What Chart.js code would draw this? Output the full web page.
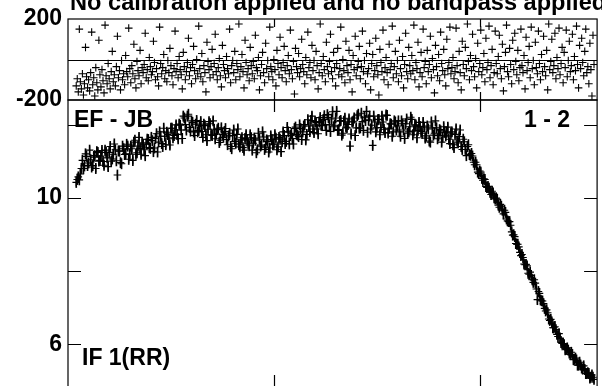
<!DOCTYPE html>
<html>
<head>
<meta charset="utf-8">
<title>EF - JB 1 - 2 IF 1(RR)</title>
<script src="https://cdn.jsdelivr.net/npm/chart.js@4.4.0/dist/chart.umd.min.js"></script>
<style>
  html, body { margin: 0; padding: 0; background: #fff; overflow: hidden; }
  body { width: 602px; height: 386px; position: relative; }
  .panel { position: absolute; left: 0; width: 602px; }
  #phaseBox { top: 0; height: 130px; }
  #ampBox { top: 80px; height: 312px; }
</style>
</head>
<body>
<div class="panel" id="ampBox"><canvas id="ampChart" width="602" height="312"></canvas></div>
<div class="panel" id="phaseBox"><canvas id="phaseChart" width="602" height="130"></canvas></div>
<script>
// channel axis
const FIRST_CHANNEL = 8;
const X_RANGE = [0, 514];
const X_TICKS = [200, 400];

// phase (degrees), channels 8..511
const PHASE = [
  -130, -95, -160, 150, -110, -145, -70, -175, -120, 60, -85, -140,
  -100, -155, -65, 135, -125, -90, -180, -40, -115, -150, 95, -75,
  -135, -50, -105, -165, 170, -80, -120, -20, -95, -145, -60, 40,
  -110, -75, -130, -35, 115, -90, -55, -150, -5, -100, -70, -125,
  20, -60, -85, 155, -45, -115, -30, -70, 75, -95, -140, -10,
  -55, -80, 45, -120, -40, -65, -25, 130, -90, -50, -105, 10,
  -35, -75, -60, 90, -15, -100, -45, -85, -130, 160, -20, -70,
  -40, 25, -95, -55, -110, -5, -65, 55, -30, -80, -125, -45,
  140, -60, -20, -90, 15, -50, -75, -145, 35, -35, -100, -60,
  -15, 105, -80, -40, -120, -25, 65, -55, -95, 0, -70, 165,
  -45, -85, 30, -110, -30, -65, -160, 85, -10, -50, -90, -35,
  50, -75, -20, 125, -60, -100, -40, 5, -80, -135, 70, -25,
  -55, -90, 15, -45, -70, 150, -115, -30, -5, -65, 40, -100,
  -20, -50, 175, -85, -35, 25, -60, -140, 95, -15, -75, -45,
  -105, 60, -30, -70, -10, -95, 120, -40, -55, 10, -150, -80,
  -25, 35, -65, -115, 80, -45, -5, -85, 160, -35, -60, -100,
  0, -50, -130, 45, -20, -75, 110, -40, -90, -15, 65, -55,
  -110, -30, 20, -70, 145, -50, -95, -10, -170, 55, -35, -65,
  30, -85, -45, 100, -25, -60, -120, 10, -75, 135, -40, -15,
  -90, 70, -55, -5, -100, 40, -30, -145, -65, 175, -20, -80,
  15, -50, -110, 85, -35, -70, -10, 125, -60, -95, 35, -40,
  -130, -20, 55, -75, -45, 160, -85, 0, -55, -115, 90, -30,
  -65, 45, -100, -25, -160, 20, -50, 115, -80, -40, -10, 65,
  -95, -35, 140, -60, -5, -120, 30, -70, -45, 80, -150, -20,
  25, -85, -55, 105, -30, -75, -175, 50, -15, -60, 145, -100,
  -40, 10, -65, -125, 75, -50, -20, 165, -90, -35, 40, -70,
  -5, -110, 95, -45, -80, 15, -140, -25, 130, -60, -95, 60,
  -30, -70, 20, -55, 170, -100, -15, -45, 85, -135, -65, 35,
  -85, 150, -40, -10, -120, 45, -60, -25, 115, -90, 5, -50,
  -165, 70, -35, -80, 25, -105, 135, -20, -55, 50, -75, -130,
  100, -45, -15, 160, -70, -40, 10, -95, -60, 155, -30, -115,
  40, -65, -150, 90, -25, -80, 60, -45, 175, -10, -100, 20,
  -55, 125, -35, -85, 5, -140, 80, -60, -20, 145, -75, -40,
  30, -110, 105, -50, -15, 165, -90, -30, 50, -125, -65, 140,
  -20, -70, 15, 120, -45, -95, 75, -155, -35, 35, 170, -60,
  -85, 55, -25, -120, 95, -50, 130, -10, -75, 45, -105, -40,
  150, -30, -65, 20, -145, 110, -55, -15, 65, -90, 160, -45,
  -5, -125, 85, -40, -70, 140, -20, -100, 25, -60, 115, -35,
  -80, 45, -150, 175, -50, -10, 100, -65, -30, 130, -95, 10,
  -45, 155, -75, -20, 60, -115, 35, -40, 145, -85, -5, 90,
  -60, -30, 125, -100, 15, -55, 165, -25, -140, 70, -45, 105,
  -15, -80, 40, 150, -65, -35, -120, 80, -50, -180, 120, -25
];

// amplitude, channels 8..511
const AMPLITUDE = [
  10.42, 10.5, 10.57, 10.49, 10.65, 10.8, 11.02, 10.8, 10.87, 11.2, 11.13, 10.88,
  10.95, 11.3, 11.04, 10.84, 10.88, 11.11, 11.15, 10.8, 11.26, 11.24, 11.0, 11.02,
  11.14, 11.29, 10.99, 10.89, 11.3, 11.24, 11.09, 10.85, 11.24, 11.4, 11.0, 11.06,
  11.19, 11.47, 11.31, 11.01, 10.62, 11.28, 11.27, 10.96, 10.93, 11.41, 11.34, 11.18,
  11.2, 11.46, 11.41, 11.05, 11.19, 11.41, 11.34, 11.02, 11.52, 11.57, 11.19, 11.23,
  11.41, 11.65, 11.35, 11.19, 11.5, 11.46, 11.31, 11.15, 11.47, 11.6, 11.59, 11.37,
  11.35, 11.65, 11.56, 11.26, 11.36, 11.62, 11.75, 11.25, 11.52, 11.8, 11.68, 11.48,
  11.4, 11.9, 11.68, 11.45, 11.79, 11.73, 11.61, 11.44, 11.9, 11.9, 11.64, 11.7,
  11.85, 11.99, 11.73, 11.61, 12.01, 11.98, 11.85, 11.62, 12.23, 12.18, 12.0, 11.85,
  12.23, 12.28, 11.92, 11.82, 12.1, 12.06, 11.8, 11.7, 12.01, 12.11, 11.8, 11.84,
  11.98, 12.08, 11.81, 11.65, 12.01, 11.97, 11.72, 11.56, 11.87, 12.08, 12.02, 11.72,
  11.7, 12.1, 11.87, 11.61, 11.74, 11.86, 11.9, 11.51, 11.57, 11.91, 11.73, 11.65,
  11.81, 11.89, 11.59, 11.45, 11.69, 11.76, 11.4, 11.34, 11.7, 11.85, 11.54, 11.49,
  11.73, 11.88, 11.45, 11.39, 11.58, 11.64, 11.37, 11.3, 11.62, 11.72, 11.58, 11.47,
  11.42, 11.72, 11.64, 11.3, 11.49, 11.63, 11.57, 11.23, 11.31, 11.76, 11.6, 11.41,
  11.44, 11.8, 11.66, 11.32, 11.38, 11.58, 11.54, 11.25, 11.36, 11.69, 11.59, 11.45,
  11.47, 11.72, 11.63, 11.31, 11.39, 11.65, 11.6, 11.26, 11.53, 11.8, 11.7, 11.48,
  11.54, 11.92, 11.8, 11.47, 11.7, 11.76, 11.62, 11.47, 11.89, 11.93, 11.73, 11.71,
  11.67, 11.99, 11.89, 11.59, 11.8, 11.96, 12.0, 11.58, 11.73, 12.13, 11.96, 11.81,
  12.11, 12.23, 11.88, 11.78, 12.08, 12.06, 11.88, 11.75, 12.07, 12.19, 11.98, 11.97,
  12.14, 12.24, 12.0, 11.84, 12.27, 12.19, 11.99, 11.81, 12.15, 12.35, 11.94, 11.98,
  12.18, 12.36, 11.84, 11.86, 12.09, 12.11, 11.71, 11.76, 12.09, 12.17, 11.93, 11.91,
  12.0, 12.15, 11.41, 11.74, 12.07, 12.09, 12.18, 11.7, 11.91, 12.24, 12.28, 11.9,
  11.91, 12.31, 12.08, 11.84, 12.2, 12.11, 12.36, 11.79, 12.13, 12.23, 11.88, 11.98,
  11.43, 12.23, 12.07, 11.8, 11.91, 12.13, 12.14, 11.72, 11.92, 12.23, 12.07, 11.87,
  11.78, 12.26, 12.25, 11.77, 11.9, 12.02, 12.01, 11.68, 11.8, 12.1, 12.07, 11.85,
  11.96, 12.1, 11.8, 11.68, 12.1, 12.02, 11.85, 11.62, 12.02, 12.15, 11.76, 11.8,
  11.94, 12.2, 12.14, 11.72, 11.82, 11.98, 11.99, 11.64, 11.84, 12.06, 11.95, 11.81,
  11.76, 12.06, 11.93, 11.63, 11.69, 11.96, 11.88, 11.55, 11.52, 12.07, 11.91, 11.71,
  11.76, 12.1, 11.91, 11.61, 11.7, 11.86, 11.83, 11.52, 11.66, 11.94, 11.79, 11.69,
  11.79, 11.93, 11.6, 11.48, 11.76, 11.8, 11.45, 11.37, 11.73, 11.88, 11.55, 11.5,
  11.67, 11.85, 11.4, 11.32, 11.6, 11.53, 11.32, 11.15, 11.4, 11.45, 11.18, 11.16,
  11.21, 11.14, 10.97, 10.9, 10.97, 10.9, 10.7, 10.66, 10.73, 10.7, 10.53, 10.48,
  10.52, 10.5, 10.31, 10.28, 10.31, 10.26, 10.15, 10.09, 10.18, 10.13, 10.0, 9.97,
  9.99, 9.96, 9.8, 9.74, 9.82, 9.77, 9.66, 9.56, 9.66, 9.6, 9.42, 9.37,
  9.35, 9.35, 9.25, 9.07, 8.98, 8.99, 8.94, 8.75, 8.73, 8.73, 8.66, 8.51,
  8.42, 8.45, 8.37, 8.19, 8.17, 8.18, 8.14, 7.94, 7.91, 7.97, 7.88, 7.76,
  7.69, 7.76, 7.67, 7.51, 7.22, 7.44, 7.39, 7.21, 7.19, 7.18, 7.11, 6.98,
  6.91, 6.94, 6.86, 6.69, 6.65, 6.68, 6.61, 6.45, 6.45, 6.48, 6.4, 6.27,
  6.21, 6.29, 6.17, 6.05, 6.02, 6.02, 5.99, 5.85, 5.86, 5.9, 5.84, 5.76,
  5.72, 5.78, 5.72, 5.58, 5.59, 5.62, 5.57, 5.43, 5.43, 5.51, 5.43, 5.35,
  5.32, 5.41, 5.31, 5.2, 5.2, 5.22, 5.2, 5.08, 5.1, 5.16, 5.1, 5.04
];
const AMP_ERR = 0.14;

// axis ticks
const PHASE_TICKS = [-200, 200];
const PHASE_RANGE = [-200, 200];
const AMP_TICKS = [6, 8, 10, 12];
const AMP_LABELED = [6, 10];
const AMP_RANGE = [4.83, 12.67];

const TITLE = 'No calibration applied and no bandpass applied';
const BASELINE = 'EF - JB';
const SOURCE_PAIR = '1 - 2';
const IF_LABEL = 'IF 1(RR)';

const FONT = "'Liberation Sans', Arial, Helvetica, sans-serif";

const channel = i => FIRST_CHANNEL + i;
const phasePoints = PHASE.map((v, i) => ({ x: channel(i), y: v }));
const ampPoints = AMPLITUDE.map((v, i) => ({ x: channel(i), y: v }));
const ampBars = AMPLITUDE.map((v, i) => ({ x: channel(i), y: [v - AMP_ERR, v + AMP_ERR] }));

// box, inward ticks and text labels for one panel
const panelFrame = {
  id: 'panelFrame',
  afterDatasetsDraw(chart, args, opts) {
    const { ctx, chartArea: a, scales } = chart;
    const xs = scales.x, ys = scales.y;
    ctx.save();
    ctx.strokeStyle = '#000';
    ctx.lineWidth = 1.2;
    ctx.strokeRect(a.left, a.top, a.right - a.left, a.bottom - a.top);
    ctx.beginPath();
    ys.ticks.forEach(t => {
      const py = Math.round(ys.getPixelForValue(t.value)) + 0.5;
      ctx.moveTo(a.left, py); ctx.lineTo(a.left + opts.yTick, py);
      ctx.moveTo(a.right, py); ctx.lineTo(a.right - opts.yTick, py);
    });
    X_TICKS.forEach(v => {
      const px = Math.round(xs.getPixelForValue(v)) + 0.5;
      ctx.moveTo(px, a.top); ctx.lineTo(px, a.top + opts.xTick);
      ctx.moveTo(px, a.bottom); ctx.lineTo(px, a.bottom - opts.xTick);
    });
    if (opts.zeroLine) {
      const pz = Math.round(ys.getPixelForValue(0)) + 0.5;
      ctx.moveTo(a.left, pz); ctx.lineTo(a.right, pz);
    }
    ctx.stroke();
    ctx.fillStyle = '#000';
    (opts.notes || []).forEach(n => {
      ctx.font = `bold ${n.size}px ${FONT}`;
      ctx.textAlign = n.align || 'left';
      ctx.textBaseline = 'alphabetic';
      const x = n.align === 'right' ? a.right + n.dx : a.left + n.dx;
      ctx.fillText(n.text, x, a.top + n.dy);
    });
    ctx.restore();
  }
};

const yAxisBase = (range, ticks, labeled) => ({
  min: range[0],
  max: range[1],
  afterBuildTicks: s => { s.ticks = ticks.map(v => ({ value: v })); },
  afterFit: s => {
    s.width = 68;
    s.paddingTop = 0;
    s.paddingBottom = 0;
  },
  grid: { display: false, drawTicks: false },
  border: { display: false },
  ticks: {
    padding: 6,
    color: '#000',
    font: { family: FONT, size: 23, weight: 'bold' },
    callback: v => (labeled.includes(v) ? String(v) : '')
  }
});

const xAxis = {
  type: 'linear',
  min: X_RANGE[0],
  max: X_RANGE[1],
  offset: false,
  display: false
};

const markerStyle = {
  showLine: false,
  pointStyle: 'cross',
  pointRadius: 3.8,
  pointHoverRadius: 3.8,
  pointBorderWidth: 1.1,
  borderColor: '#000',
  backgroundColor: '#000'
};

new Chart(document.getElementById('phaseChart'), {
  type: 'scatter',
  data: { datasets: [{ data: phasePoints, ...markerStyle }] },
  options: {
    responsive: false,
    animation: false,
    layout: { padding: { top: 19, bottom: 30, right: 1, left: 0 } },
    plugins: {
      legend: { display: false },
      tooltip: { enabled: false },
      panelFrame: {
        yTick: 0, xTick: 8, zeroLine: true,
        notes: [{ text: TITLE, size: 23.6, dx: 2, dy: -9 }]
      }
    },
    scales: {
      x: xAxis,
      y: yAxisBase(PHASE_RANGE, PHASE_TICKS, PHASE_TICKS)
    }
  },
  plugins: [panelFrame]
});

new Chart(document.getElementById('ampChart'), {
  type: 'scatter',
  data: {
    datasets: [
      { data: ampPoints, ...markerStyle },
      {
        type: 'bar',
        data: ampBars,
        barThickness: 1,
        backgroundColor: '#000',
        borderWidth: 0,
        grouped: false
      }
    ]
  },
  options: {
    responsive: false,
    animation: false,
    layout: { padding: { top: 20, bottom: 4, right: 1, left: 0 } },
    plugins: {
      legend: { display: false },
      tooltip: { enabled: false },
      panelFrame: {
        yTick: 13, xTick: 12, zeroLine: false,
        notes: [
          { text: BASELINE, size: 23, dx: 6, dy: 27 },
          { text: SOURCE_PAIR, size: 23, dx: -27, dy: 27, align: 'right' },
          { text: IF_LABEL, size: 23, dx: 14, dy: 265 }
        ]
      }
    },
    scales: {
      x: xAxis,
      y: yAxisBase(AMP_RANGE, AMP_TICKS, AMP_LABELED)
    }
  },
  plugins: [panelFrame]
});
</script>
</body>
</html>
